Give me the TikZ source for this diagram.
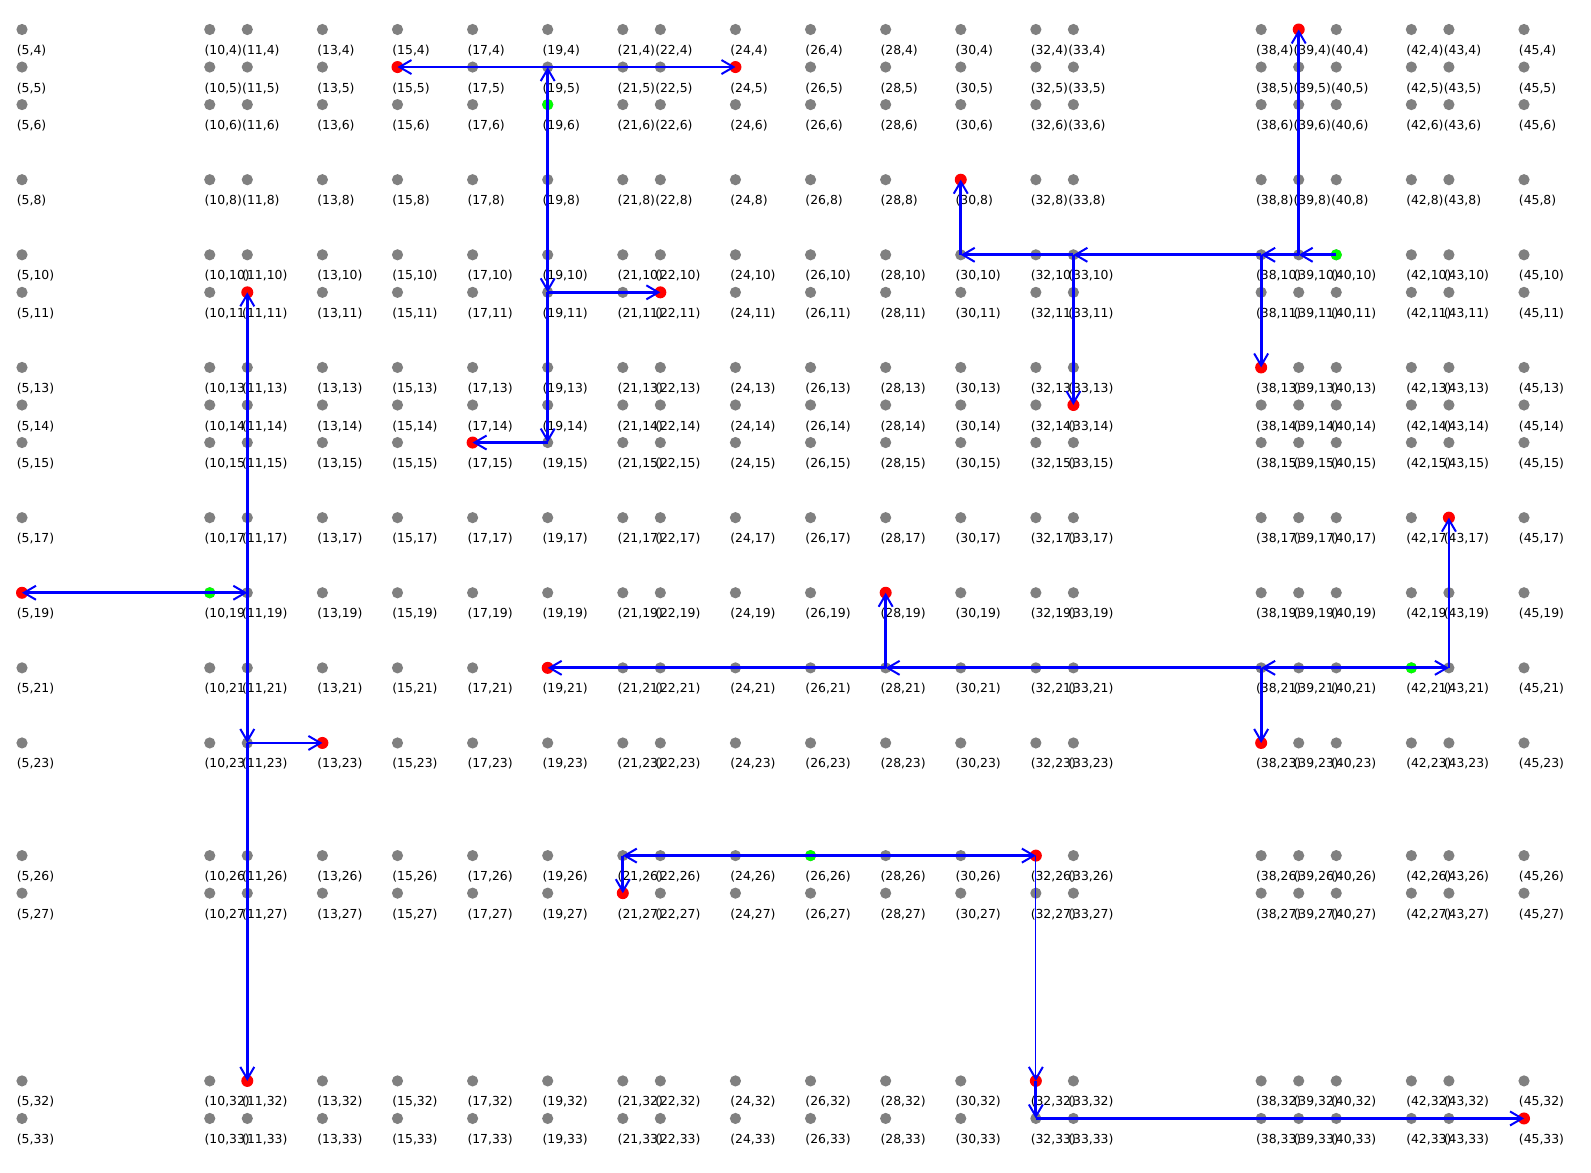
\documentclass[tikz,border=0pt]{standalone}
\usepackage{fontspec}
\setmainfont{DejaVu Sans}
\usetikzlibrary{arrows.meta}
\definecolor{dotgray}{RGB}{128,128,128}
\definecolor{pred}{RGB}{255,0,0}
\definecolor{pgreen}{RGB}{0,255,0}
\definecolor{pblue}{RGB}{0,0,255}
\tikzset{
  dot/.style={circle,inner sep=0pt,minimum size=5.6pt,fill=dotgray,draw=none},
  reddot/.style={circle,inner sep=0pt,minimum size=6pt,fill=pred,draw=none},
  greendot/.style={circle,inner sep=0pt,minimum size=5.6pt,fill=pgreen,draw=none},
  lbl/.style={anchor=base west,inner sep=0pt,font=\fontsize{6.2pt}{7pt}\selectfont},
  conn/.style={draw=pblue,line width=1.4pt,-{Straight Barb[length=6pt,width=7pt,line width=1pt]}},
  thinconn/.style={draw=pblue,line width=0.6pt,-{Straight Barb[length=6pt,width=7pt,line width=1pt]}}
}
\begin{document}
\begin{tikzpicture}[x=0.5pt,y=-0.5pt]
\useasboundingbox (0,0) rectangle (1591,1173);
\foreach \x in {5,10,11,13,15,17,19,21,22,24,26,28,30,32,33,38,39,40,42,43,45}{
  \foreach \y in {4,5,6,8,10,11,13,14,15,17,19,21,23,26,27,32,33}{
    \node[dot] (p\x-\y) at ({22+(\x-5)*37.55},{29.5+(\y-4)*37.55}) {};
  }
}
\foreach \x in {5,10,11,13,15,17,19,21,22,24,26,28,30,32,33,38,39,40,42,43,45}{
  \foreach \y in {4,5,6,8,10,11,13,14,15,17,19,21,23,26,27,32,33}{
    \node[lbl] (l\x-\y) at ({16.5+(\x-5)*37.55},{54.5+(\y-4)*37.55}) {(\x,\y)};
  }
}
% special dots
\foreach \n in {15-5,24-5,22-11,17-15,39-4,38-13,33-14,30-8,5-19,11-11,13-23,11-32,43-17,38-23,28-19,19-21,21-27,32-26,32-32,45-33}{
  \node[reddot] at (p\n) {};
}
\foreach \n in {19-6,40-10,10-19,42-21,26-26}{
  \node[greendot] at (p\n) {};
}
% group 1
\draw[conn] (p19-6.center) -- (p19-5.center);
\draw[conn] (p19-5.center) -- (p15-5.center);
\draw[conn] (p19-5.center) -- (p24-5.center);
\draw[conn] (p19-6.center) -- (p19-11.center);
\draw[conn] (p19-11.center) -- (p22-11.center);
\draw[conn] (p19-11.center) -- (p19-15.center);
\draw[conn] (p19-15.center) -- (p17-15.center);
% group 2
\draw[conn] (p40-10.center) -- (p39-10.center);
\draw[conn] (p39-10.center) -- (p39-4.center);
\draw[conn] (p39-10.center) -- (p38-10.center);
\draw[conn] (p38-10.center) -- (p38-13.center);
\draw[conn] (p38-10.center) -- (p33-10.center);
\draw[conn] (p33-10.center) -- (p33-14.center);
\draw[conn] (p33-10.center) -- (p30-10.center);
\draw[conn] (p30-10.center) -- (p30-8.center);
% group 3
\draw[conn] (p10-19.center) -- (p5-19.center);
\draw[conn] (p10-19.center) -- (p11-19.center);
\draw[conn] (p11-19.center) -- (p11-11.center);
\draw[conn] (p11-19.center) -- (p11-23.center);
\draw[conn] (p11-23.center) -- (p13-23.center);
\draw[conn] (p11-23.center) -- (p11-32.center);
% group 4
\draw[conn] (p42-21.center) -- (p43-21.center);
\draw[conn] (p43-21.center) -- (p43-17.center);
\draw[conn] (p42-21.center) -- (p38-21.center);
\draw[conn] (p38-21.center) -- (p38-23.center);
\draw[conn] (p38-21.center) -- (p28-21.center);
\draw[conn] (p28-21.center) -- (p28-19.center);
\draw[conn] (p28-21.center) -- (p19-21.center);
% group 5
\draw[conn] (p26-26.center) -- (p21-26.center);
\draw[conn] (p21-26.center) -- (p21-27.center);
\draw[conn] (p26-26.center) -- (p32-26.center);
\draw[thinconn] (p32-26.center) -- (p32-32.center);
\draw[conn] (p32-32.center) -- (p32-33.center);
\draw[conn] (p32-33.center) -- (p45-33.center);
\end{tikzpicture}
\end{document}
